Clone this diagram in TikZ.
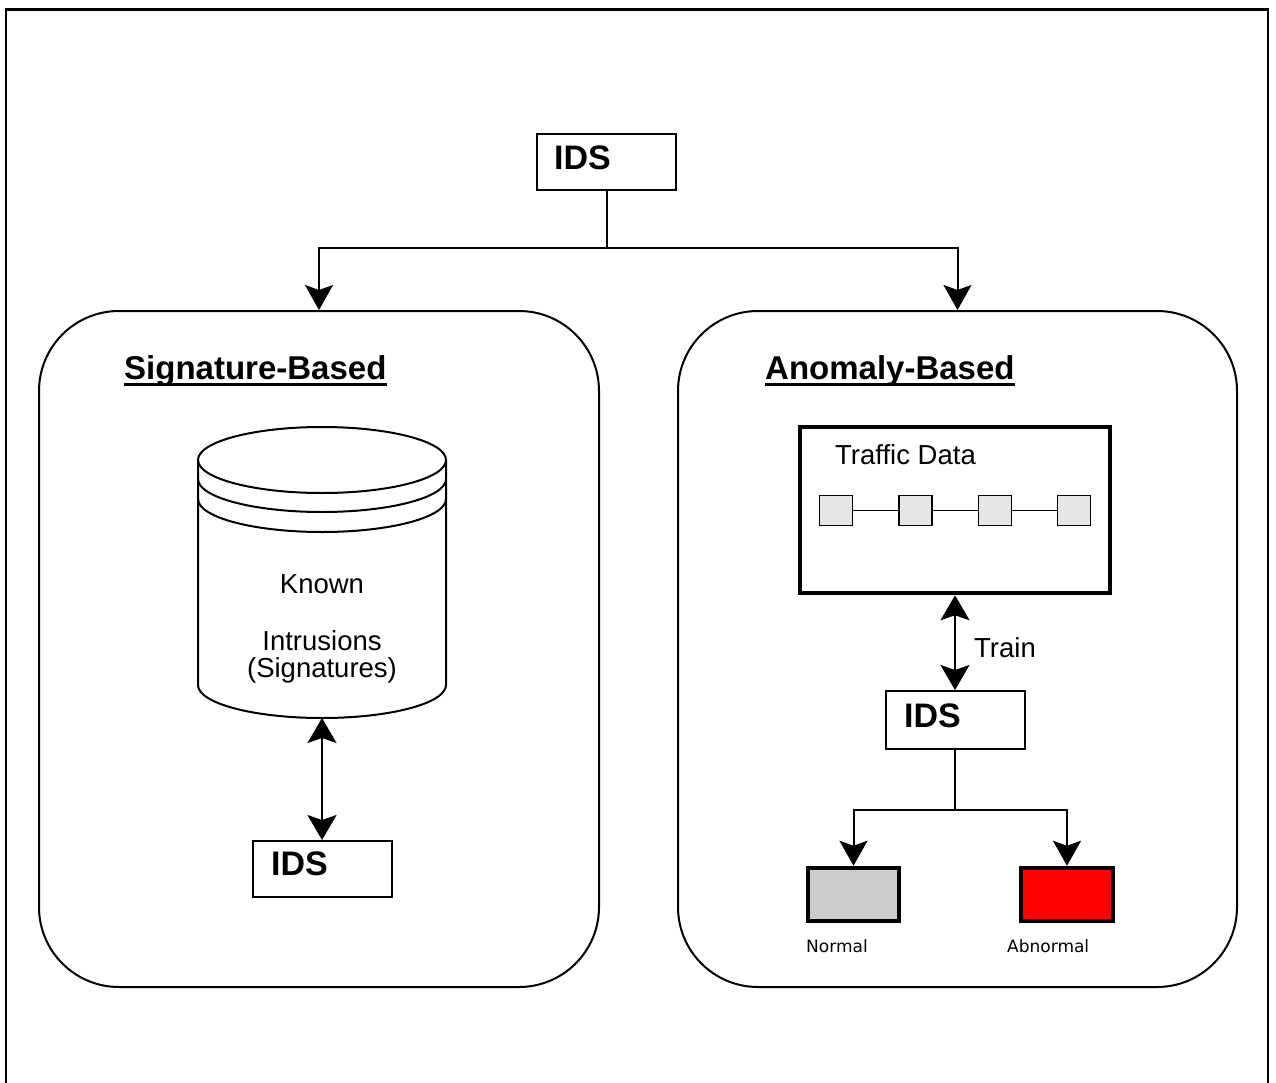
\documentclass[tikz,border=0pt]{standalone}
\usepackage{fontspec}
\setmainfont{Liberation Sans}
\newfontfamily\labelfont{DejaVu Sans}
\usetikzlibrary{arrows.meta}
\definecolor{packetgray}{HTML}{E6E6E6}
\definecolor{normalgray}{HTML}{CCCCCC}
\definecolor{alertred}{HTML}{FF0000}
\begin{document}
\begin{tikzpicture}[x=1pt,y=-1pt,
  conn/.style={line width=2pt},
  bigtip/.style={-{Stealth[length=25pt,width=28pt,inset=5pt]}},
  bothtips/.style={{Stealth[length=25pt,width=29pt,inset=5pt]}-{Stealth[length=25pt,width=29pt,inset=5pt]}},
  plainbox/.style={draw,line width=2pt,inner sep=0pt},
  groupbox/.style={draw,line width=2pt,inner sep=0pt,rounded corners=80pt},
  packet/.style={draw,line width=1.5pt,fill=packetgray,inner sep=0pt,minimum width=33pt,minimum height=30pt},
  result/.style={draw,line width=4.5pt,inner sep=0pt,minimum width=91pt,minimum height=53pt},
  idstext/.style={anchor=base west,inner sep=0pt,font=\fontsize{34}{40}\selectfont\bfseries},
  headtext/.style={anchor=base west,inner sep=0pt,font=\fontsize{33}{40}\selectfont\bfseries},
  bodytext/.style={inner sep=0pt,font=\fontsize{27.5}{33}\selectfont},
  smalltext/.style={anchor=base west,inner sep=0pt,font=\labelfont\fontsize{17}{20}\selectfont},
  underl/.style={line width=3.3pt}]
\useasboundingbox (0,0) rectangle (1276,1083);

% page frame (open at the bottom)
\draw[line width=2.5pt] (6,1083) -- (6,9.3) -- (1268,9.3) -- (1268,1083);

% top level IDS
\node[plainbox,minimum width=139pt,minimum height=56pt] (ids1) at (606.5,162) {};
\node[idstext] (ids1t) at (554,170) {IDS};

% the two families
\node[groupbox,minimum width=560pt,minimum height=676pt] (sig) at (319,649) {};
\node[groupbox,minimum width=559pt,minimum height=676pt] (ano) at (957.5,649) {};

\path (ids1.south) ++(0,57) coordinate (split);
\draw[conn] (ids1.south) -- (split);
\draw[conn,bigtip] (split) -| (sig.north);
\draw[conn,bigtip] (split) -| (ano.north);

% headings
\node[headtext] (sigt) at (124,379) {Signature-Based};
\node[headtext] (anot) at (765,379) {Anomaly-Based};
\draw[underl] ([yshift=-5.2pt]sigt.base west) -- ([yshift=-5.2pt]sigt.base east);
\draw[underl] ([yshift=-5.2pt]anot.base west) -- ([yshift=-5.2pt]anot.base east);

% signature database
\draw[line width=2pt] (198,460) -- (198,685)
  arc[start angle=180,end angle=360,x radius=124pt,y radius=33pt] -- (446,460);
\draw[line width=2pt] (322,460) ellipse [x radius=124pt,y radius=33pt];
\draw[line width=2pt] (198,479) arc[start angle=180,end angle=360,x radius=124pt,y radius=33pt];
\draw[line width=2pt] (198,499) arc[start angle=180,end angle=360,x radius=124pt,y radius=33pt];
\coordinate (dbbottom) at (322,718);
\node[bodytext,anchor=base] (known) at (322,593) {Known};
\node[bodytext,anchor=base] (intr) at (322,650) {Intrusions};
\node[bodytext,anchor=base] (sigs) at (322,677) {(Signatures)};

\node[plainbox,minimum width=139pt,minimum height=56pt] (ids2) at (322,869) {};
\node[idstext] (ids2t) at (271,875) {IDS};
\draw[conn,bothtips] (dbbottom) -- (ids2.north);

% traffic data
\node[draw,line width=4.5pt,inner sep=0pt,minimum width=310pt,minimum height=166pt] (traffic) at (955,510) {};
\node[bodytext,anchor=base west] (traffict) at (835,464) {Traffic Data};
\node[packet] (p1) at (836,510.5) {};
\node[packet] (p2) at (915.5,510.5) {};
\node[packet] (p3) at (995,510.5) {};
\node[packet] (p4) at (1074,510.5) {};
\draw[line width=1.5pt] (p1) -- (p2) -- (p3) -- (p4);

% trained IDS
\node[plainbox,minimum width=139pt,minimum height=58pt] (ids3) at (955,720) {};
\node[idstext] (ids3t) at (904,727) {IDS};
\draw[conn,bothtips] (traffic.south) -- (ids3.north);
\node[bodytext,anchor=base west] (train) at (974,657) {Train};

% classification
\node[result,fill=normalgray] (normal) at (853.5,894.5) {};
\node[result,fill=alertred,minimum width=92pt] (abnormal) at (1067,894.5) {};
\path (ids3.south) ++(0,60) coordinate (fork);
\draw[conn] (ids3.south) -- (fork);
\draw[conn,bigtip] (fork) -| (normal.north);
\draw[conn,bigtip] (fork) -| (abnormal.north);
\node[smalltext] (normalt) at (806,952) {Normal};
\node[smalltext] (abnormalt) at (1007,952) {Abnormal};
\end{tikzpicture}
\end{document}
